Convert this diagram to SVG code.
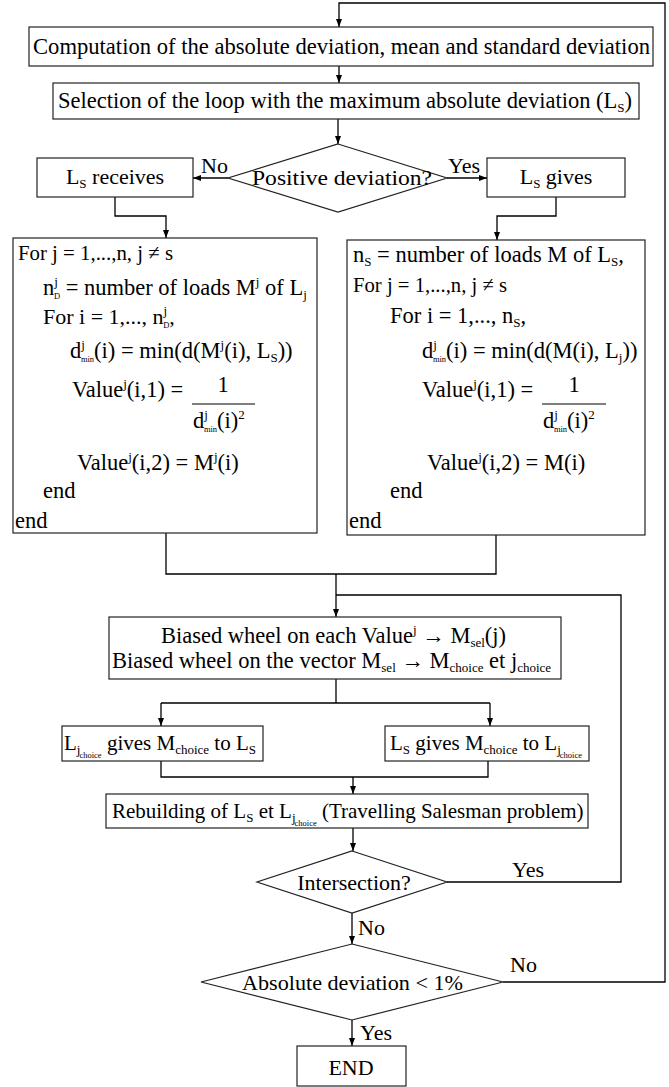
<svg xmlns="http://www.w3.org/2000/svg" width="669" height="1087" viewBox="0 0 669 1087">
<style>
.box{fill:#fff;stroke:#222;stroke-width:1.2}
.t{font-family:"Liberation Serif","Times New Roman",serif;font-size:22px;fill:#000}
.b{font-size:22.5px}
.n{font-size:21px}
.m{text-anchor:middle}
.s{font-size:13px}
.ss{font-size:8.5px}
.c{fill:none;stroke:#000;stroke-width:1.3}
</style>
<defs>
<marker id="ah" markerUnits="userSpaceOnUse" markerWidth="8" markerHeight="6" refX="8" refY="3" orient="auto">
<path d="M0,0 L8,3 L0,6 z" fill="#000"/>
</marker>
</defs>
<rect width="669" height="1087" fill="#fff"/>
<g id="connectors">
<path class="c" d="M503 982 H665 V3 H339 V27" marker-end="url(#ah)"/>
<path class="c" d="M339 66 V83" marker-end="url(#ah)"/>
<path class="c" d="M338 119 V144" marker-end="url(#ah)"/>
<path class="c" d="M228 178 H193" marker-end="url(#ah)"/>
<path class="c" d="M447 178 H487" marker-end="url(#ah)"/>
<path class="c" d="M115 197 V216 H166 V238" marker-end="url(#ah)"/>
<path class="c" d="M556 197 V216 H497 V240" marker-end="url(#ah)"/>
<path class="c" d="M166 533 V574 H496 V535"/>
<path class="c" d="M336 574 V617" marker-end="url(#ah)"/>
<path class="c" d="M447 882 H621 V595 H336"/>
<path class="c" d="M336 679 V703 M161 703 H490"/>
<path class="c" d="M161 703 V726" marker-end="url(#ah)"/>
<path class="c" d="M490 703 V726" marker-end="url(#ah)"/>
<path class="c" d="M161 761 V777 H488 V761"/>
<path class="c" d="M353 777 V794" marker-end="url(#ah)"/>
<path class="c" d="M353 828 V851" marker-end="url(#ah)"/>
<path class="c" d="M352 913 V944" marker-end="url(#ah)"/>
<path class="c" d="M352 1020 V1046" marker-end="url(#ah)"/>
<text class="t" x="201" y="173">No</text>
<text class="t" x="448" y="173">Yes</text>
<text class="t" x="512" y="877">Yes</text>
<text class="t" x="358" y="935">No</text>
<text class="t" x="510" y="972">No</text>
<text class="t" x="360" y="1040">Yes</text>
</g>
<g id="n-computation">
<rect class="box" x="29" y="27" width="624" height="39"/>
<text class="t b" x="33" y="54" textLength="617" lengthAdjust="spacingAndGlyphs">Computation of the absolute deviation, mean and standard deviation</text>
</g>
<g id="n-selection">
<rect class="box" x="53" y="83" width="586" height="36"/>
<text class="t b" x="58" y="108">Selection of the loop with the maximum absolute deviation (L<tspan class="s" dy="4">S</tspan><tspan dy="-4">)</tspan></text>
</g>
<g id="n-positive">
<polygon class="box" points="338,144 447,178 338,212 228,178"/>
<text class="t" x="252" y="185" textLength="180" lengthAdjust="spacingAndGlyphs">Positive deviation?</text>
</g>
<g id="n-receives">
<rect class="box" x="37" y="158" width="156" height="39"/>
<text class="t m" x="115" y="184">L<tspan class="s" dy="4">S</tspan><tspan dy="-4"> receives</tspan></text>
</g>
<g id="n-gives">
<rect class="box" x="487" y="158" width="138" height="39"/>
<text class="t m" x="556" y="184">L<tspan class="s" dy="4">S</tspan><tspan dy="-4"> gives</tspan></text>
</g>
<g id="n-left-loop">
<rect class="box" x="13" y="238" width="304" height="295"/>
<text class="t" x="18" y="260" textLength="155" lengthAdjust="spacingAndGlyphs">For j = 1,...,n, j ≠ s</text>
<text class="t b" x="43" y="295">n<tspan class="s" dy="-9">j</tspan><tspan class="ss" dx="-4" dy="13">D</tspan><tspan dy="-4"> = number of loads M</tspan><tspan class="s" dy="-9">j</tspan><tspan dy="9"> of L</tspan><tspan class="s" dy="4">j</tspan></text>
<text class="t" x="43" y="324">For i = 1,..., n<tspan class="s" dy="-9">j</tspan><tspan class="ss" dx="-4" dy="13">D</tspan><tspan dy="-4">,</tspan></text>
<text class="t b" x="70" y="358">d<tspan class="s" dy="-9">j</tspan><tspan class="ss" dx="-4" dy="13">min</tspan><tspan dy="-4">(i) = min(d(M</tspan><tspan class="s" dy="-9">j</tspan><tspan dy="9">(i), L</tspan><tspan class="s" dy="4">S</tspan><tspan dy="-4">))</tspan></text>
<text class="t b" x="72" y="397">Value<tspan class="s" dy="-9">j</tspan><tspan dy="9">(i,1) =</tspan></text>
<text class="t b m" x="223" y="392">1</text>
<line x1="192" y1="404" x2="255" y2="404" stroke="#000" stroke-width="1"/>
<text class="t b" x="193" y="428">d<tspan class="s" dy="-9">j</tspan><tspan class="ss" dx="-4" dy="13">min</tspan><tspan dy="-4">(i)</tspan><tspan class="s" dy="-9">2</tspan></text>
<text class="t b" x="77" y="470">Value<tspan class="s" dy="-9">j</tspan><tspan dy="9">(i,2) = M</tspan><tspan class="s" dy="-9">j</tspan><tspan dy="9">(i)</tspan></text>
<text class="t b" x="43" y="498">end</text>
<text class="t b" x="15" y="528">end</text>
</g>
<g id="n-right-loop">
<rect class="box" x="347" y="240" width="298" height="295"/>
<text class="t b" x="353" y="262">n<tspan class="s" dy="4">S</tspan><tspan dy="-4"> = number of loads M of L</tspan><tspan class="s" dy="4">S</tspan><tspan dy="-4">,</tspan></text>
<text class="t" x="353" y="292" textLength="154" lengthAdjust="spacingAndGlyphs">For j = 1,...,n, j ≠ s</text>
<text class="t b" x="390" y="323">For i = 1,..., n<tspan class="s" dy="4">S</tspan><tspan dy="-4">,</tspan></text>
<text class="t b" x="422" y="358">d<tspan class="s" dy="-9">j</tspan><tspan class="ss" dx="-4" dy="13">min</tspan><tspan dy="-4">(i) = min(d(M(i), L</tspan><tspan class="s" dy="4">j</tspan><tspan dy="-4">))</tspan></text>
<text class="t b" x="422" y="397">Value<tspan class="s" dy="-9">j</tspan><tspan dy="9">(i,1) =</tspan></text>
<text class="t b m" x="574" y="392">1</text>
<line x1="542" y1="404" x2="606" y2="404" stroke="#000" stroke-width="1"/>
<text class="t b" x="543" y="428">d<tspan class="s" dy="-9">j</tspan><tspan class="ss" dx="-4" dy="13">min</tspan><tspan dy="-4">(i)</tspan><tspan class="s" dy="-9">2</tspan></text>
<text class="t b" x="427" y="470">Value<tspan class="s" dy="-9">j</tspan><tspan dy="9">(i,2) = M(i)</tspan></text>
<text class="t b" x="390" y="498">end</text>
<text class="t b" x="349" y="528">end</text>
</g>
<g id="n-biased">
<rect class="box" x="109" y="617" width="452" height="62"/>
<text class="t b" x="161" y="643">Biased wheel on each Value<tspan class="s" dy="-9">j</tspan><tspan dy="9"> → M</tspan><tspan class="s" dy="4">sel</tspan><tspan dy="-4">(j)</tspan></text>
<text class="t b" x="112" y="668">Biased wheel on the vector M<tspan class="s" dy="4">sel</tspan><tspan dy="-4"> → M</tspan><tspan class="s" dy="4">choice</tspan><tspan dy="-4"> et j</tspan><tspan class="s" dy="4">choice</tspan></text>
</g>
<g id="n-ljchoice-gives">
<rect class="box" x="62" y="726" width="201" height="35"/>
<text class="t n" x="64" y="750">L<tspan class="s" dy="4">j</tspan><tspan class="ss" dx="-1" dy="4">choice</tspan><tspan dy="-8"> gives M</tspan><tspan class="s" dy="4">choice</tspan><tspan dy="-4"> to L</tspan><tspan class="s" dy="4">S</tspan></text>
</g>
<g id="n-ls-gives">
<rect class="box" x="385" y="726" width="204" height="35"/>
<text class="t n" x="390" y="750">L<tspan class="s" dy="4">S</tspan><tspan dy="-4"> gives M</tspan><tspan class="s" dy="4">choice</tspan><tspan dy="-4"> to L</tspan><tspan class="s" dy="4">j</tspan><tspan class="ss" dx="-1" dy="4">choice</tspan></text>
</g>
<g id="n-rebuilding">
<rect class="box" x="106" y="794" width="482" height="34"/>
<text class="t n" x="112" y="818">Rebuilding of L<tspan class="s" dy="4">S</tspan><tspan dy="-4"> et L</tspan><tspan class="s" dy="4">j</tspan><tspan class="ss" dx="-1" dy="4">choice</tspan><tspan dy="-8"> (Travelling Salesman problem)</tspan></text>
</g>
<g id="n-intersection">
<polygon class="box" points="352,851 447,882 352,913 257,882"/>
<text class="t m" x="354" y="890">Intersection?</text>
</g>
<g id="n-absolute">
<polygon class="box" points="352,944 503,982 352,1020 201,982"/>
<text class="t" x="242" y="990" textLength="221" lengthAdjust="spacingAndGlyphs">Absolute deviation &lt; 1%</text>
</g>
<g id="n-end">
<rect class="box" x="297" y="1046" width="109" height="40"/>
<text class="t m" x="351" y="1075">END</text>
</g>
</svg>
